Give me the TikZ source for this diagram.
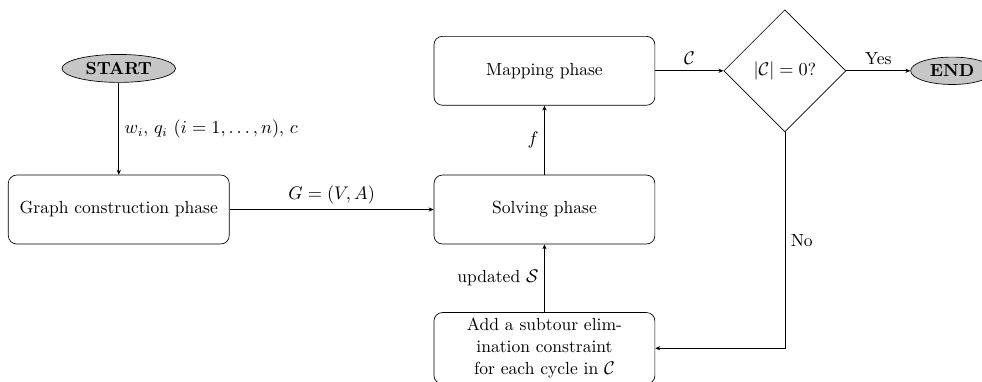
\documentclass[tikz,border=0pt]{standalone}
\usepackage{amsmath,amssymb}
\usepackage{tikz}
\usetikzlibrary{shapes.geometric}
\usetikzlibrary{arrows.meta}

\begin{document}
\begin{tikzpicture}[
		every node/.style={font=\fontsize{10.5pt}{13.2pt}\selectfont},
		phase/.style={draw, rounded corners=5pt, minimum width=4.65cm, minimum height=1.45cm, align=center, text width=4.3cm},
		terminal/.style={draw, ellipse, fill=gray!45, inner xsep=4.2pt, inner ysep=2.2pt, font=\fontsize{10.5pt}{13.2pt}\selectfont\bfseries},
		test/.style={draw, diamond, minimum width=2.57cm, minimum height=2.57cm, inner sep=0pt},
		flow/.style={-{Stealth[length=3pt, width=2.5pt]}, thin}
	]
		
		\useasboundingbox (0,0) rectangle (20.67,-8.02);
		
		% --- nodes ---
		\node[terminal] (start) at (2.50,-1.44) {START};
		\node[phase] (graph) at (2.50,-4.41) {Graph construction phase};
		\node[phase] (solve) at (11.46,-4.41) {Solving phase};
		\node[phase] (map) at (11.46,-1.49) {Mapping phase};
		\node[phase] (cut) at (11.46,-7.33) {Add a subtour elim-\\ination constraint\\for each cycle in $\mathcal{C}$};
		\node[test] (check) at (16.52,-1.49) {$|\mathcal{C}|=0$?};
		\node[terminal] (stop) at (20.04,-1.49) {END};
		
		\coordinate (corner) at (check.south |- cut.east);
		
		% --- connectors ---
		\draw[flow] (start) -- node[right] {$w_i$, $q_i$ $(i=1,\ldots,n)$, $c$} (graph);
		\draw[flow] (graph) -- node[above] {$G=(V,A)$} (solve);
		\draw[flow] (solve) -- node[left] {$f$} (map);
		\draw[flow] (map) -- node[above] {$\mathcal{C}$} (check);
		\draw[flow] (check) -- node[above] {Yes} (stop);
		\draw[flow] (check.south) -- node[right] {No} (corner) -- (cut.east);
		\draw[flow] (cut) -- node[left] {updated $\mathcal{S}$} (solve);
		
	\end{tikzpicture}
\end{document}
